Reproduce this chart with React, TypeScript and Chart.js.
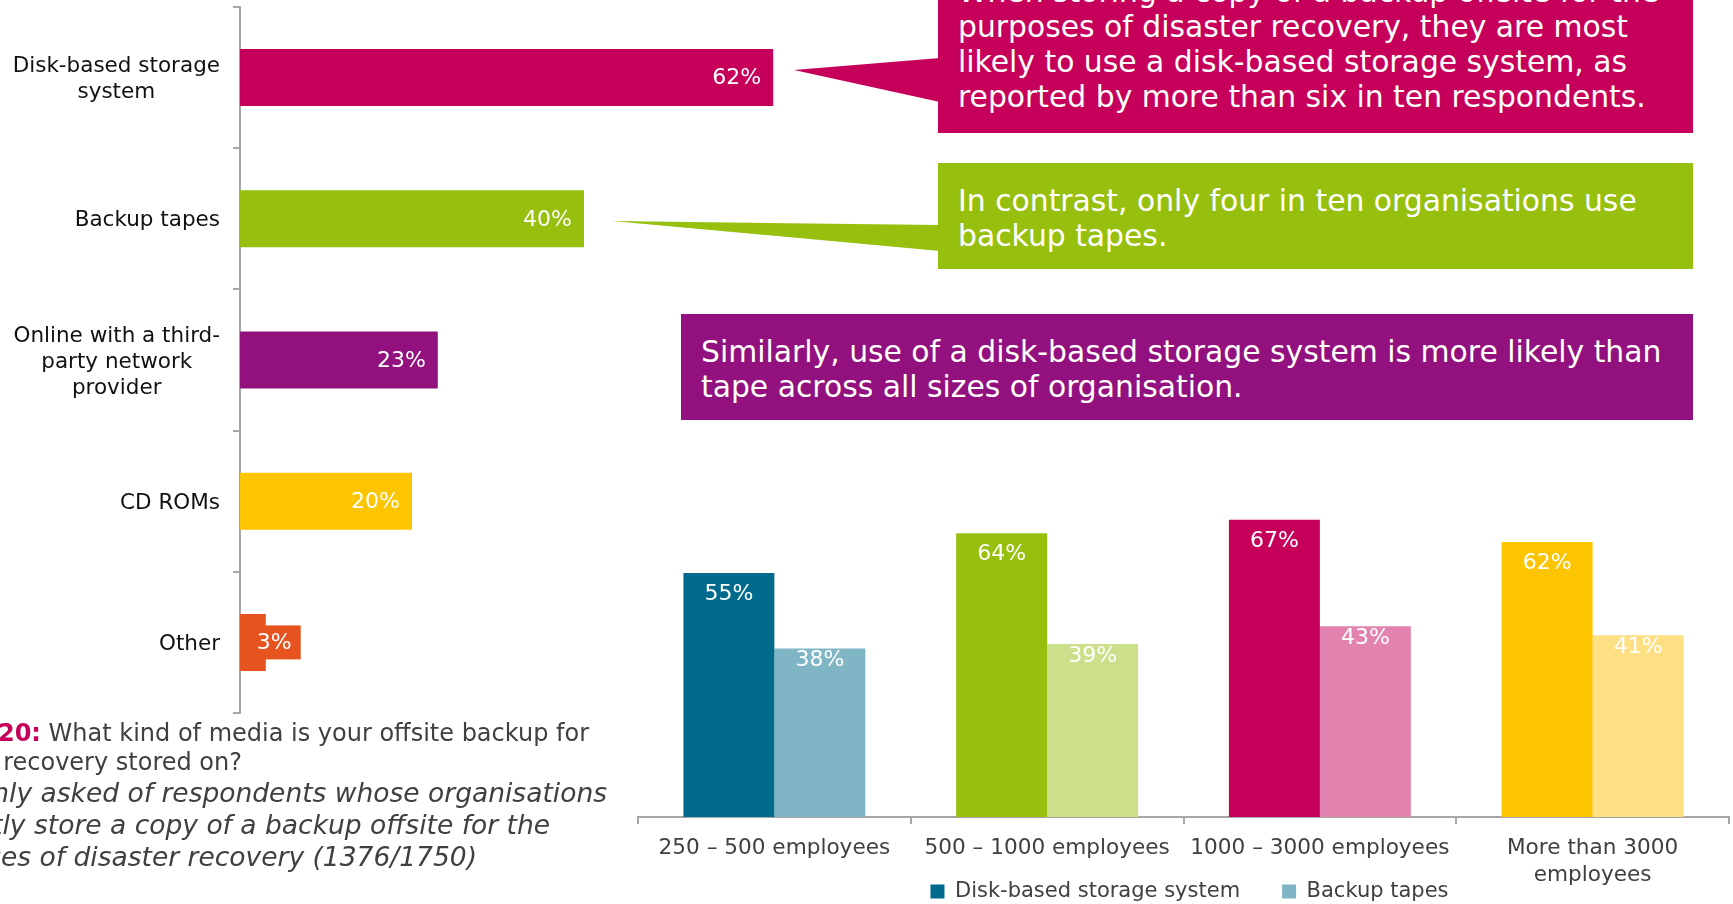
import React, { useEffect, useRef } from "react";
import { Chart, registerables } from "chart.js";

Chart.register(...registerables);

const FONT = '"DejaVu Sans", Verdana, sans-serif';
Chart.defaults.font.family = FONT;

// ---- Left chart data ----
const mediaCategories = [
  ["Disk-based storage", "system"],
  ["Backup tapes"],
  ["Online with a third-", "party network", "provider"],
  ["CD ROMs"],
  ["Other"],
];
const mediaValues = [62, 40, 23, 20, 3];
const mediaColors = ["#C6005A", "#97C00E", "#93117E", "#FCC500", "#E6531F"];

// ---- Right chart data ----
const sizeCategories = [
  ["250 – 500 employees"],
  ["500 – 1000 employees"],
  ["1000 – 3000 employees"],
  ["More than 3000", "employees"],
];
const seriesNames = ["Disk-based storage system", "Backup tapes"];
const diskValues = [55, 64, 67, 62];
const tapeValues = [38, 39, 43, 41];
const diskColors = ["#006B8C", "#97C00E", "#C6005A", "#FCC500"];
const tapeColors = ["#80B5C6", "#CCE08B", "#E282AE", "#FDE083"];

// ---- Callout texts ----
const pinkLines = [
  "When storing a copy of a backup offsite for the",
  "purposes of disaster recovery, they are most",
  "likely to use a disk-based storage system, as",
  "reported by more than six in ten respondents.",
];
const greenLines = ["In contrast, only four in ten organisations use", "backup tapes."];
const purpleLines = [
  "Similarly, use of a disk-based storage system is more likely than",
  "tape across all sizes of organisation.",
];
const baseLines = [
  "Base: Only asked of respondents whose organisations",
  "currently store a copy of a backup offsite for the",
  "purposes of disaster recovery (1376/1750)",
];

const AXIS_COLOR = "#A6A6A6";

const leftPlugin = {
  id: "leftLabels",
  afterDraw(chart: any) {
    const ctx = chart.ctx;
    const yScale = chart.scales.y;
    ctx.save();
    ctx.font = `21.5px ${FONT}`;
    ctx.fillStyle = "#111111";
    ctx.textBaseline = "middle";
    ctx.textAlign = "center";
    const lineH = 26;
    mediaCategories.forEach((lines, i) => {
      const y = yScale.getPixelForValue(i) + 2;
      const widest = Math.max(...lines.map((l) => ctx.measureText(l).width));
      const cx = 220 - widest / 2;
      lines.forEach((l, j) => ctx.fillText(l, cx, y + (j - (lines.length - 1) / 2) * lineH));
    });
    const meta = chart.getDatasetMeta(0);
    ctx.font = `22px ${FONT}`;
    meta.data.forEach((bar: any, i: number) => {
      const { x, y, base } = bar.getProps(["x", "y", "base"], true);
      const txt = mediaValues[i] + "%";
      const w = ctx.measureText(txt).width;
      let right = x - 12;
      if (w + 24 > x - base) {
        const left = x - 9;
        right = left + w;
        ctx.fillStyle = mediaColors[i];
        ctx.fillRect(left - 4, y - 17, w + 13, 34);
      }
      ctx.fillStyle = "#ffffff";
      ctx.textAlign = "right";
      ctx.fillText(txt, right, y + 1);
    });
    ctx.restore();
  },
};

const rightPlugin = {
  id: "rightLabels",
  afterLayout(chart: any) {
    // let the category labels extend below the (short) axis box, under the legend row
    chart.scales.x.bottom = chart.height;
    const lg = chart.legend;
    if (lg) {
      lg.left += 6;
      lg.right += 6;
      lg.top += 2;
      lg.bottom += 2;
    }
  },
  afterDatasetsDraw(chart: any) {
    const ctx = chart.ctx;
    ctx.save();
    ctx.font = `22px ${FONT}`;
    ctx.fillStyle = "#ffffff";
    ctx.textAlign = "center";
    ctx.textBaseline = "middle";
    [diskValues, tapeValues].forEach((vals, d) => {
      chart.getDatasetMeta(d).data.forEach((bar: any, i: number) => {
        const { x, y } = bar.getProps(["x", "y"], true);
        ctx.fillText(vals[i] + "%", x, y + (d === 0 ? 21 : 12));
      });
    });
    ctx.restore();
  },
};

function LeftChart() {
  const ref = useRef<HTMLCanvasElement>(null);
  useEffect(() => {
    const chart = new Chart(ref.current as HTMLCanvasElement, {
      type: "bar",
      data: {
        labels: mediaCategories.map((l) => l.join(" ")),
        datasets: [
          {
            data: mediaValues,
            backgroundColor: mediaColors,
            categoryPercentage: 1,
            barPercentage: 0.404,
            borderWidth: 0,
          },
        ],
      },
      options: {
        indexAxis: "y",
        responsive: false,
        animation: false,
        layout: { padding: { top: 7, bottom: 7, left: 0, right: 0 } },
        plugins: { legend: { display: false }, tooltip: { enabled: false } },
        scales: {
          x: { display: false, min: 0, max: 70 },
          y: {
            afterFit: (s: any) => {
              s.width = 240;
            },
            ticks: { display: false },
            grid: { drawOnChartArea: false, tickLength: 7, color: AXIS_COLOR, lineWidth: 2 },
            border: { color: AXIS_COLOR, width: 2 },
          },
        },
      } as any,
      plugins: [leftPlugin],
    });
    return () => chart.destroy();
  }, []);
  return (
    <canvas
      ref={ref}
      width={842}
      height={720}
      style={{ position: "absolute", left: 0, top: 0, width: 842, height: 720 }}
    />
  );
}

function RightChart() {
  const ref = useRef<HTMLCanvasElement>(null);
  useEffect(() => {
    const legendColors = [diskColors[0], tapeColors[0]];
    const chart = new Chart(ref.current as HTMLCanvasElement, {
      type: "bar",
      data: {
        labels: sizeCategories as any,
        datasets: [
          {
            label: seriesNames[0],
            data: diskValues,
            backgroundColor: diskColors,
            categoryPercentage: 0.667,
            barPercentage: 1,
            borderWidth: 0,
          },
          {
            label: seriesNames[1],
            data: tapeValues,
            backgroundColor: tapeColors,
            categoryPercentage: 0.667,
            barPercentage: 1,
            borderWidth: 0,
          },
        ],
      },
      options: {
        responsive: false,
        animation: false,
        layout: { padding: { left: 38, right: 4, top: 0, bottom: 0 } },
        plugins: {
          tooltip: { enabled: false },
          legend: {
            position: "bottom",
            labels: {
              boxWidth: 14,
              boxHeight: 14,
              padding: 42,
              color: "#404040",
              font: { size: 21, family: FONT },
              generateLabels: () =>
                seriesNames.map((n, i) => ({
                  text: n,
                  fillStyle: legendColors[i],
                  strokeStyle: legendColors[i],
                  lineWidth: 0,
                  hidden: false,
                  datasetIndex: i,
                  fontColor: "#404040",
                })),
            },
          },
        },
        scales: {
          x: {
            afterFit: (s: any) => {
              s.height = 20;
            },
            ticks: {
              color: "#404040",
              font: { size: 21.6, family: FONT, lineHeight: "27px" },
              padding: 11,
              maxRotation: 0,
              autoSkip: false,
            },
            grid: { drawOnChartArea: false, tickLength: 7, color: AXIS_COLOR, lineWidth: 2 },
            border: { color: AXIS_COLOR, width: 2 },
          },
          y: { display: false, min: 0, max: 85 },
        },
      } as any,
      plugins: [rightPlugin],
    });
    return () => chart.destroy();
  }, []);
  return (
    <canvas
      ref={ref}
      width={1133}
      height={470}
      style={{ position: "absolute", left: 600, top: 440, width: 1133, height: 470 }}
    />
  );
}

function Callout(props: { left: number; top: number; width: number; height: number; color: string; lines: string[] }) {
  const { left, top, width, height, color, lines } = props;
  return (
    <div
      style={{
        position: "absolute",
        left,
        top,
        width,
        height,
        background: color,
        display: "flex",
        flexDirection: "column",
        justifyContent: "center",
        paddingLeft: 20,
        paddingTop: 4,
        boxSizing: "border-box",
        color: "#ffffff",
        fontFamily: FONT,
        fontSize: 29.8,
        lineHeight: "35px",
        whiteSpace: "nowrap",
      }}
    >
      {lines.map((l, i) => (
        <div key={i}>{l}</div>
      ))}
    </div>
  );
}

function CaptionLine(props: { endX: number; centerY: number; size: number; italic?: boolean; children: any }) {
  return (
    <div
      style={{
        position: "absolute",
        right: 1733 - props.endX,
        top: props.centerY - 16,
        height: 32,
        lineHeight: "32px",
        whiteSpace: "nowrap",
        fontFamily: FONT,
        fontSize: props.size,
        fontStyle: props.italic ? "italic" : "normal",
        color: "#404040",
      }}
    >
      {props.children}
    </div>
  );
}

export default function App() {
  return (
    <div
      style={{
        position: "fixed",
        left: 0,
        top: 0,
        width: 1733,
        height: 904,
        overflow: "hidden",
        background: "#ffffff",
      }}
    >
      <LeftChart />
      <RightChart />
      <svg width={1733} height={904} style={{ position: "absolute", left: 0, top: 0 }}>
        <polygon points="794,70 940,58 940,102" fill="#C6005A" />
        <polygon points="612,221 940,225 940,251" fill="#97C00E" />
      </svg>
      <Callout left={938} top={-49} width={755} height={182} color="#C6005A" lines={pinkLines} />
      <Callout left={938} top={163} width={755} height={106} color="#97C00E" lines={greenLines} />
      <Callout left={681} top={314} width={1012} height={106} color="#93117E" lines={purpleLines} />
      <CaptionLine endX={589} centerY={733} size={24}>
        <span style={{ color: "#C6005A", fontWeight: "bold" }}>Q20:</span> What kind of media is your offsite backup for
      </CaptionLine>
      <CaptionLine endX={242} centerY={762} size={24}>
        disaster recovery stored on?
      </CaptionLine>
      <CaptionLine endX={607} centerY={793} size={26.5} italic>
        {baseLines[0]}
      </CaptionLine>
      <CaptionLine endX={550} centerY={825} size={26.5} italic>
        {baseLines[1]}
      </CaptionLine>
      <CaptionLine endX={477} centerY={857} size={26.5} italic>
        {baseLines[2]}
      </CaptionLine>
    </div>
  );
}
